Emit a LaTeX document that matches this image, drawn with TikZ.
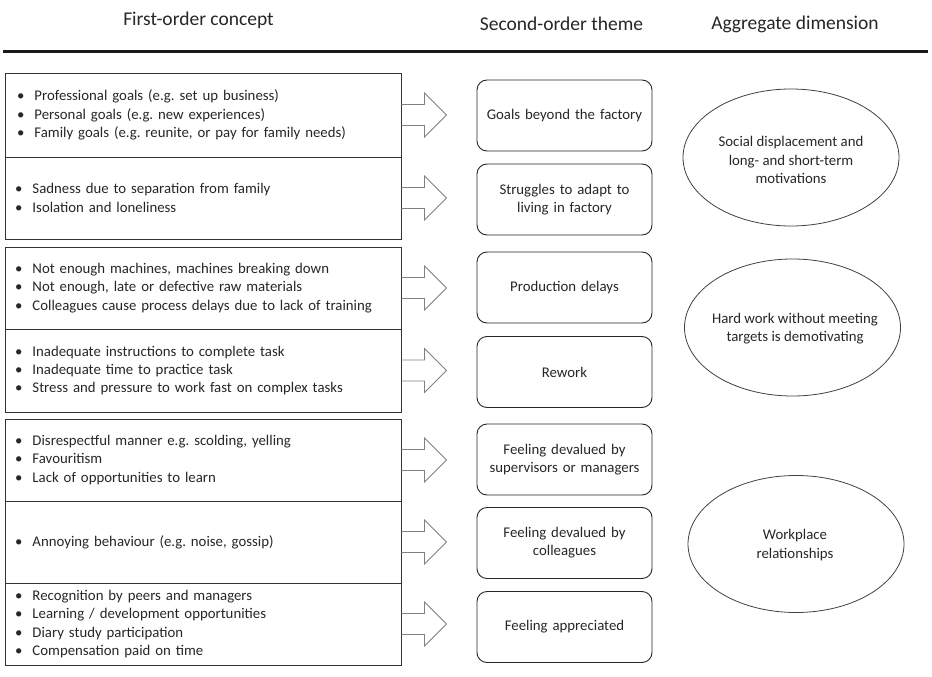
\documentclass[tikz,border=0pt]{standalone}
\usepackage{fontspec}
\setmainfont{Carlito}
\usetikzlibrary{shapes.geometric}
\frenchspacing
\begin{document}
\begin{tikzpicture}[x=1pt,y=-1pt,
  every node/.style={font=\fontsize{14.8}{18.2}\selectfont, text=black!85},
  hdr/.style={font=\fontsize{19.5}{22}\selectfont, inner sep=0},
  lbox/.style={draw=black!80, line width=0.9pt, rectangle, minimum width=396, text width=376, align=left, inner xsep=10, inner ysep=0},
  mbox/.style={draw=black!85, line width=0.9pt, rounded corners=10, minimum width=175, minimum height=71, text width=170, align=center, inner sep=0},
  ell/.style={draw=black!75, line width=0.8pt, ellipse, minimum width=216, minimum height=137, inner sep=0},
  elltext/.style={align=center, inner sep=0},
  barrow/.style={draw=black!50, line width=0.8pt, line join=miter}
]
\useasboundingbox (0,0) rectangle (932,677);
% headers
\node[hdr] (h1) at (198.5,20) {First-order concept};
\node[hdr] (h2) at (561.5,24) {Second-order theme};
\node[hdr] (h3) at (795,24) {Aggregate dimension};
\coordinate (rl) at (3,52);
\coordinate (rr) at (928,52);
\draw[line width=3pt, black!90] (rl) -- (rr);
% left boxes
\newcommand{\bl}[1]{\makebox[17.5pt][l]{\textbullet}#1}
\node[lbox, minimum height=84] (l1) at (203,115) {\hspace*{2pt}\bl{Professional goals (e.g. set up business)}\\\hspace*{2pt}\bl{Personal goals (e.g. new experiences)}\\\hspace*{2pt}\bl{Family goals (e.g. reunite, or pay for family needs)}};
\node[lbox, minimum height=82] (l2) at (203,198) {\bl{Sadness due to separation from family}\\\bl{Isolation and loneliness}};
\node[lbox, minimum height=82] (l3) at (203,288) {\bl{Not enough machines, machines breaking down}\\\bl{Not enough, late or defective raw materials}\\\bl{Colleagues cause process delays due to lack of training}};
\node[lbox, minimum height=83] (l4) at (203,370.5) {\bl{Inadequate instructions to complete task}\\\bl{Inadequate time to practice task}\\\bl{Stress and pressure to work fast on complex tasks}};
\node[lbox, minimum height=82] (l5) at (203,460) {\bl{Disrespectful manner e.g. scolding, yelling}\\\bl{Favouritism}\\\bl{Lack of opportunities to learn}};
\node[lbox, minimum height=82] (l6) at (203,542) {\bl{Annoying behaviour (e.g. noise, gossip)}};
\node[lbox, minimum height=82] (l7) at (203,624) {\bl{Recognition by peers and managers}\\\bl{Learning / development opportunities}\\\bl{Diary study participation}\\\bl{Compensation paid on time}};
% block arrows
\foreach \n in {l1,l2,l3,l4,l5,l6,l7}{
  \draw[barrow] (\n.east) ++(0,-10.5) -- ++(23,0) -- ++(0,-11.5) -- ++(22,22) -- ++(-22,22) -- ++(0,-11.5) -- ++(-23,0);
}
% middle boxes
\node[mbox] (m1) at (564.5,115.5) {Goals beyond the factory};
\node[mbox] (m2) at (564.5,199.5) {Struggles to adapt to\\living in factory};
\node[mbox] (m3) at (564.5,287.5) {Production delays};
\node[mbox] (m4) at (564.5,372) {Rework};
\node[mbox] (m5) at (564.5,459.5) {Feeling devalued by\\supervisors or managers};
\node[mbox] (m6) at (564.5,543) {Feeling devalued by\\colleagues};
\node[mbox] (m7) at (564.5,627) {Feeling appreciated};
% ellipses
\node[ell] (e1) at (791,157.5) {};
\node[elltext] (t1) at (791,160) {Social displacement and\\long- and short-term\\motivations};
\node[ell] (e2) at (792.5,327.5) {};
\node[elltext] (t2) at (795,329) {Hard work without meeting\\targets is demotivating};
\node[ell] (e3) at (796,544) {};
\node[elltext] (t3) at (795,545) {Workplace\\relationships};
\end{tikzpicture}
\end{document}
